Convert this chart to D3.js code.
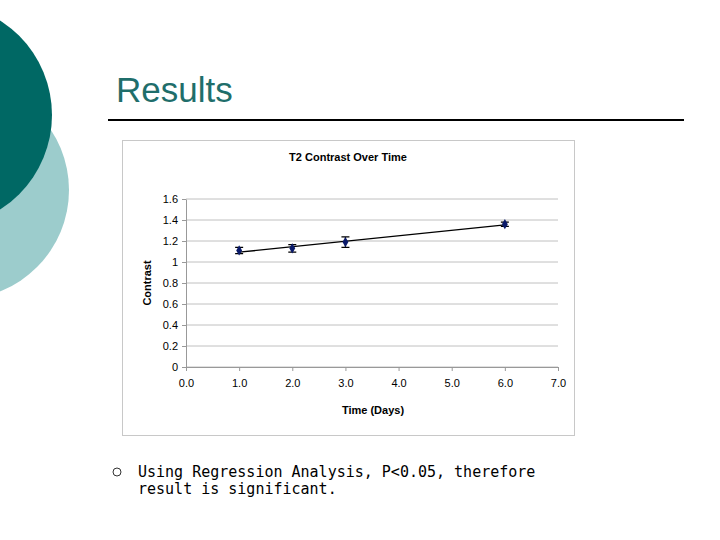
<!DOCTYPE html>
<html><head><meta charset="utf-8">
<script src="https://cdn.jsdelivr.net/npm/d3@7"></script>
<style>body{margin:0;background:#fff}</style>
</head><body>
<svg id="s" width="720" height="540"></svg>
<script>
var days = [1, 2, 3, 6];
var contrast = [1.11, 1.13, 1.19, 1.36];
var errors = [0.03, 0.035, 0.05, 0.02];
var xTicks = [0, 1, 2, 3, 4, 5, 6, 7];
var yTicks = [0, 0.2, 0.4, 0.6, 0.8, 1, 1.2, 1.4, 1.6];

var svg = d3.select('#s');

// slide decoration
svg.append('circle').attr('cx', -40).attr('cy', 190).attr('r', 109).attr('fill', '#9ccccc');
svg.append('circle').attr('cx', -60).attr('cy', 115).attr('r', 112).attr('fill', '#006864');
svg.append('text').attr('x', 116).attr('y', 102).text('Results')
  .attr('font-family', 'Liberation Sans, Arial').attr('font-size', 35).attr('fill', '#1f6e6b');
svg.append('line').attr('x1', 108).attr('x2', 684).attr('y1', 120).attr('y2', 120)
  .attr('stroke', '#000').attr('stroke-width', 2);

// chart frame
svg.append('rect').attr('x', 122.5).attr('y', 140.5).attr('width', 452).attr('height', 295)
  .attr('fill', '#fff').attr('stroke', '#c8c8c8');

var x = d3.scaleLinear().domain([0, 7]).range([186, 558]);
var y = d3.scaleLinear().domain([0, 1.6]).range([367, 199]);
var font = 'Liberation Sans, Arial';

svg.append('g').selectAll('line').data(yTicks).join('line')
  .attr('x1', x(0)).attr('x2', x(7)).attr('y1', y).attr('y2', y)
  .attr('stroke', '#c0c0c0').attr('stroke-width', 1);

var xAxis = svg.append('g').attr('transform', 'translate(0,' + y(0) + ')')
  .call(d3.axisBottom(x).tickValues(xTicks).tickSize(4).tickSizeOuter(0).tickPadding(8));
var yAxis = svg.append('g').attr('transform', 'translate(' + x(0) + ',0)')
  .call(d3.axisLeft(y).tickValues(yTicks).tickFormat(d3.format('')).tickSize(4).tickSizeOuter(0).tickPadding(4));
[xAxis, yAxis].forEach(function (a) {
  a.selectAll('path,line').attr('stroke', '#999');
  a.selectAll('text').attr('font-family', font).attr('font-size', 11).attr('fill', '#000');
});

svg.append('text').attr('x', 348).attr('y', 161).attr('text-anchor', 'middle')
  .attr('font-family', font).attr('font-size', 11).attr('font-weight', 'bold').text('T2 Contrast Over Time');
svg.append('text').attr('x', 373).attr('y', 414).attr('text-anchor', 'middle')
  .attr('font-family', font).attr('font-size', 11).attr('font-weight', 'bold').text('Time (Days)');
svg.append('text').attr('transform', 'translate(151,283) rotate(-90)').attr('text-anchor', 'middle')
  .attr('font-family', font).attr('font-size', 11).attr('font-weight', 'bold').text('Contrast');

// linear trendline
var mx = d3.mean(days), my = d3.mean(contrast);
var slope = d3.sum(days, function (d, i) { return (d - mx) * (contrast[i] - my); }) /
  d3.sum(days, function (d) { return (d - mx) * (d - mx); });
var ends = [d3.min(days), d3.max(days)];
svg.append('path').datum(ends)
  .attr('d', d3.line().x(x).y(function (d) { return y(my + slope * (d - mx)); }))
  .attr('stroke', '#000').attr('stroke-width', 1.3).attr('fill', 'none');

var pts = svg.append('g').selectAll('g').data(days).join('g');
pts.append('path').attr('d', function (d, i) {
  var px = x(d), t = y(contrast[i] + errors[i]), b = y(contrast[i] - errors[i]);
  return 'M' + (px - 4) + ',' + t + 'H' + (px + 4) + 'M' + px + ',' + t + 'V' + b + 'M' + (px - 4) + ',' + b + 'H' + (px + 4);
}).attr('stroke', '#000').attr('stroke-width', 1.2).attr('fill', 'none');
pts.append('path').attr('d', d3.symbol(d3.symbolDiamond, 30))
  .attr('transform', function (d, i) { return 'translate(' + x(d) + ',' + y(contrast[i]) + ')'; })
  .attr('fill', '#0a1a6a');

// bullet
svg.append('circle').attr('cx', 117).attr('cy', 472).attr('r', 4).attr('fill', 'none').attr('stroke', '#333');
var bt = svg.append('text').attr('font-family', 'DejaVu Sans Mono').attr('font-size', 15).attr('fill', '#000');
bt.append('tspan').attr('x', 138).attr('y', 477).text('Using Regression Analysis, P<0.05, therefore');
bt.append('tspan').attr('x', 138).attr('y', 494).text('result is significant.');
</script>
</body></html>
